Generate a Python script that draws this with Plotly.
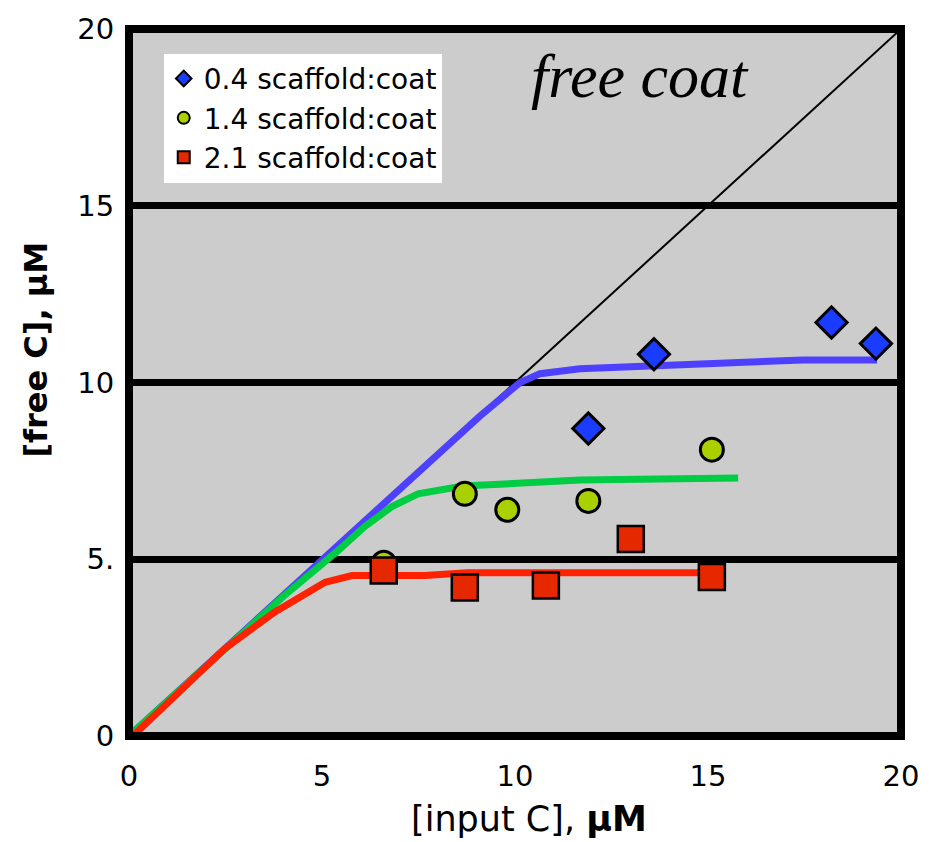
import plotly.graph_objects as go

# Measured points: free coat protein vs input coat protein, per scaffold:coat ratio
x_04 = [11.9, 13.6, 18.2, 19.35]
y_04 = [8.7, 10.8, 11.7, 11.1]

x_14 = [6.6, 8.7, 9.8, 11.9, 15.1]
y_14 = [4.9, 6.85, 6.4, 6.65, 8.1]

x_21 = [6.6, 8.7, 10.8, 13.0, 15.1]
y_21 = [4.68, 4.2, 4.26, 5.57, 4.5]

# Model curves
fit_x_04 = [0.1, 2.0, 4.0, 6.0, 8.0, 9.09, 10.13, 10.65, 11.68, 13.68, 16.5, 17.46, 19.38]
fit_y_04 = [0.1, 2.0, 4.0, 5.95, 7.95, 9.05, 10.0, 10.25, 10.39, 10.47, 10.56, 10.64, 10.64]

fit_x_14 = [0.1, 2.0, 4.0, 5.41, 6.11, 6.81, 7.49, 8.65, 9.95, 11.68, 15.78]
fit_y_14 = [0.1, 2.0, 3.95, 5.24, 5.93, 6.49, 6.85, 7.07, 7.13, 7.24, 7.3]

fit_x_21 = [0.1, 1.0, 2.49, 3.78, 4.74, 5.08, 5.78, 7.67, 8.76, 15.2]
fit_y_21 = [0.0, 0.95, 2.48, 3.51, 4.15, 4.35, 4.54, 4.54, 4.62, 4.62]

ident = [0, 20]

tick_vals = [0, 5, 10, 15, 20]
y_tick_text = ["0", "5.", "10", "15", "20"]
x_tick_text = ["0", "5", "10", "15", "20"]

fig = go.Figure()

# identity line: free = input
fig.add_trace(go.Scatter(x=ident, y=ident, mode="lines",
                         line=dict(color="black", width=2), showlegend=False))

fig.add_trace(go.Scatter(x=fit_x_04, y=fit_y_04, mode="lines",
                         line=dict(color="#4d40ff", width=7), showlegend=False))
fig.add_trace(go.Scatter(x=fit_x_14, y=fit_y_14, mode="lines",
                         line=dict(color="#00cc44", width=7), showlegend=False))
fig.add_trace(go.Scatter(x=fit_x_21, y=fit_y_21, mode="lines",
                         line=dict(color="#ff2200", width=7), showlegend=False))

fig.add_trace(go.Scatter(x=x_04, y=y_04, mode="markers", name="0.4 scaffold:coat",
                         marker=dict(symbol="diamond", size=24, color="#1a3cff",
                                     line=dict(color="black", width=3))))
fig.add_trace(go.Scatter(x=x_14, y=y_14, mode="markers", name="1.4 scaffold:coat",
                         marker=dict(symbol="circle", size=23, color="#aad000",
                                     line=dict(color="black", width=3))))
fig.add_trace(go.Scatter(x=x_21, y=y_21, mode="markers", name="2.1 scaffold:coat",
                         marker=dict(symbol="square", size=26, color="#e62800",
                                     line=dict(color="black", width=2.5))))

fig.update_layout(
    width=937, height=842,
    margin=dict(l=129, r=36, t=18, b=106),
    paper_bgcolor="white",
    plot_bgcolor="#cccccc",
    font=dict(family="DejaVu Sans", color="black"),
    legend=dict(
        x=0.045, y=0.965, xanchor="left", yanchor="top",
        bgcolor="white", borderwidth=0,
        font=dict(family="DejaVu Sans", size=28, color="black"),
        itemsizing="constant", tracegroupgap=0,
    ),
    xaxis=dict(
        range=[0, 20], tickvals=tick_vals, ticktext=x_tick_text,
        showgrid=False, zeroline=False, showline=False,
        ticks="outside", ticklen=14, tickcolor="rgba(0,0,0,0)",
        tickfont=dict(family="DejaVu Sans", size=29),
    ),
    yaxis=dict(
        range=[0, 20], tickvals=tick_vals, ticktext=y_tick_text,
        showgrid=True, gridcolor="black", gridwidth=7,
        zeroline=False, showline=False,
        ticks="outside", ticklen=8, tickcolor="rgba(0,0,0,0)",
        tickfont=dict(family="DejaVu Sans", size=29),
    ),
    shapes=[
        dict(type="rect", xref="paper", yref="paper", x0=0, y0=0, x1=1, y1=1,
             line=dict(color="black", width=8), layer="above"),
    ],
    annotations=[
        dict(text="free coat", xref="paper", yref="paper", x=0.662, y=0.934,
             xanchor="center", yanchor="middle", showarrow=False,
             font=dict(family="Liberation Serif", size=62, color="black", style="italic")),
        dict(text="[input C], <b>μM</b>", xref="paper", yref="paper",
             x=0.518, y=-0.117, xanchor="center", yanchor="middle", showarrow=False,
             font=dict(family="DejaVu Sans", size=35)),
        dict(text="<b>[free C], μM</b>", xref="paper", yref="paper",
             x=-0.121, y=0.546, xanchor="center", yanchor="middle", showarrow=False,
             textangle=-90,
             font=dict(family="DejaVu Sans", size=32)),
    ],
)

fig.write_html("out.html")
